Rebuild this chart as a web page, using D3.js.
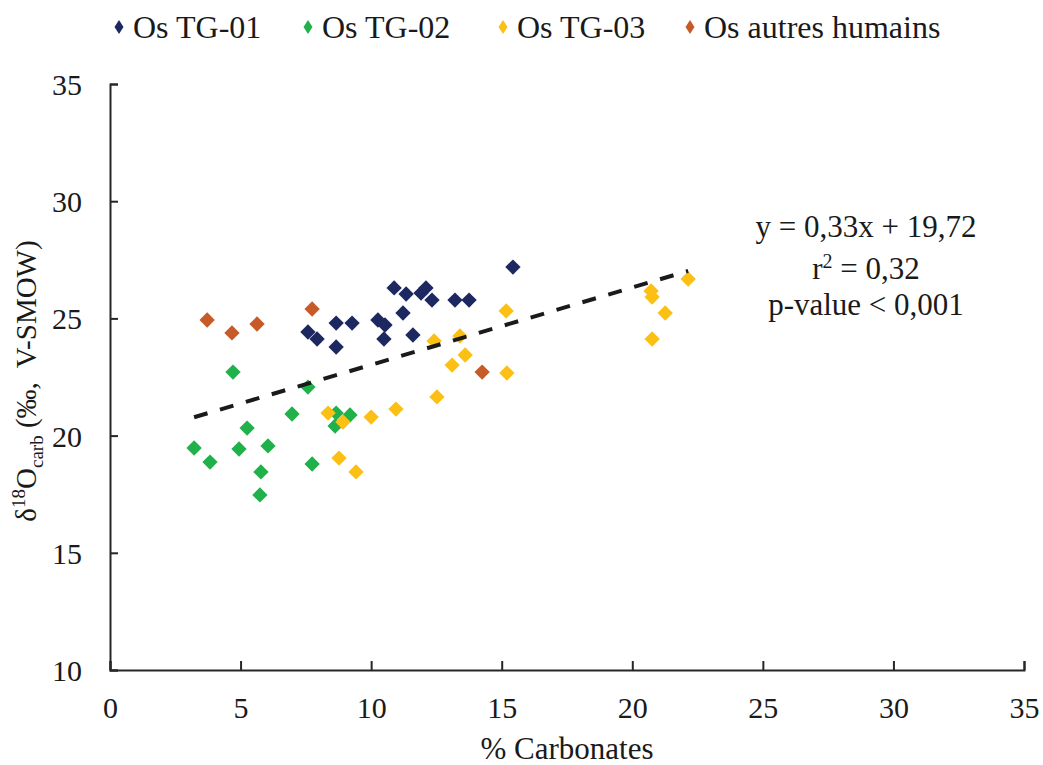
<!DOCTYPE html>
<html>
<head>
<meta charset="utf-8">
<script src="https://cdn.jsdelivr.net/npm/d3@7"></script>
<style>
  body { margin: 0; background: #fff; }
  svg { display: block; font-family: "Liberation Serif", "Times New Roman", serif; }
</style>
</head>
<body>
<svg id="chart" width="1043" height="765"></svg>
<script>
// ---- data ----
const seriesNames = ["Os TG-01", "Os TG-02", "Os TG-03", "Os autres humains"];
const seriesColors = ["#1d2861", "#21b14b", "#fcc015", "#c75b27"];

const tg01X = [10.88, 11.34, 11.91, 12.10, 12.33, 13.21, 13.75, 15.43, 11.22, 11.60, 10.49, 10.26, 10.53, 9.27, 8.66, 7.58, 7.93, 8.66];
const tg01Y = [26.30, 26.04, 26.08, 26.30, 25.78, 25.78, 25.78, 27.19, 25.23, 24.29, 24.12, 24.93, 24.72, 24.80, 24.80, 24.42, 24.12, 23.78];

const tg02X = [4.71, 7.58, 6.97, 5.25, 3.22, 3.83, 4.94, 6.05, 5.78, 5.74, 7.74, 8.66, 9.19, 8.62];
const tg02Y = [22.71, 22.07, 20.92, 20.32, 19.47, 18.87, 19.43, 19.56, 18.45, 17.47, 18.79, 20.96, 20.88, 20.41];

const tg03X = [15.17, 12.41, 13.40, 13.60, 13.10, 15.20, 12.52, 10.95, 10.00, 8.35, 8.92, 8.77, 9.42, 20.72, 20.76, 21.26, 20.76, 22.14];
const tg03Y = [25.32, 24.04, 24.25, 23.44, 23.01, 22.67, 21.65, 21.13, 20.79, 20.96, 20.58, 19.04, 18.45, 26.17, 25.91, 25.23, 24.12, 26.68];

const autresX = [3.72, 4.67, 5.63, 7.74, 14.25];
const autresY = [24.93, 24.38, 24.76, 25.40, 22.71];

const xTicks = [0, 5, 10, 15, 20, 25, 30, 35];
const yTicks = [10, 15, 20, 25, 30, 35];

const trendSlope = 0.33, trendIntercept = 19.72;
const trendLabels = ["y = 0,33x + 19,72", "r² = 0,32", "p-value < 0,001"];

// ---- chart ----
const svg = d3.select("#chart");
const x = d3.scaleLinear().domain([0, 35]).range([110, 1024]);
const y = d3.scaleLinear().domain([10, 35]).range([670, 84]);
const axisColor = "#262626";
const fontSize = 30;

const seriesX = [tg01X, tg02X, tg03X, autresX];
const seriesY = [tg01Y, tg02Y, tg03Y, autresY];

// axes
const xAxis = svg.append("g").attr("transform", "translate(0,670)")
  .call(d3.axisBottom(x).tickValues(xTicks).tickSize(-9).tickPadding(27).tickFormat(d3.format("d")));
const yAxis = svg.append("g").attr("transform", "translate(110,0)")
  .call(d3.axisLeft(y).tickValues(yTicks).tickSize(-8).tickPadding(28).tickFormat(d3.format("d")));
[xAxis, yAxis].forEach(g => {
  g.select(".domain").attr("stroke", axisColor).attr("stroke-width", 2);
  g.selectAll(".tick line").attr("stroke", axisColor).attr("stroke-width", 2);
  g.selectAll(".tick text").attr("fill", "#1a1a1a").style("font-size", fontSize + "px")
    .style("font-family", "'Liberation Serif', serif");
});
xAxis.selectAll(".tick text").attr("dy", "0.71em");
yAxis.selectAll(".tick text").attr("dy", "0.35em");

// points
const diamond = d3.symbol().type(d3.symbolDiamond2).size(150);
seriesX.forEach((xs, i) => {
  const pts = xs.map((v, j) => [v, seriesY[i][j]]);
  svg.append("g").selectAll("path").data(pts).join("path")
    .attr("d", diamond)
    .attr("transform", d => `translate(${x(d[0])},${y(d[1])})`)
    .attr("fill", seriesColors[i]);
});

// trend line (over data range), on top of points
const allX = [].concat(...seriesX);
const xMin = d3.min(allX), xMax = d3.max(allX);
svg.append("line")
  .attr("x1", x(xMin)).attr("y1", y(trendSlope * xMin + trendIntercept))
  .attr("x2", x(xMax)).attr("y2", y(trendSlope * xMax + trendIntercept))
  .attr("stroke", "#1a1a1a").attr("stroke-width", 4)
  .attr("stroke-dasharray", "14,13");

// equation text
const eqX = 866, eqY = [226, 268, 304], eqSize = 31;
trendLabels.forEach((t, i) => {
  const txt = svg.append("text").attr("x", eqX).attr("y", eqY[i]).attr("dy", "0.35em")
    .attr("text-anchor", "middle").attr("fill", "#1a1a1a").style("font-size", eqSize + "px");
  if (i === 1) {
    txt.append("tspan").text("r");
    txt.append("tspan").text("2").attr("dy", -11).style("font-size", "20px");
    txt.append("tspan").text(" = 0,32").attr("dy", 11);
  } else {
    txt.text(t);
  }
});

// legend
const legendX = [119, 308, 503, 690];
const legend = svg.append("g");
seriesNames.forEach((n, i) => {
  legend.append("path")
    .attr("d", "M0,-7L4.5,0L0,7L-4.5,0Z")
    .attr("transform", `translate(${legendX[i]},27)`)
    .attr("fill", seriesColors[i]);
  legend.append("text").attr("x", legendX[i] + 14).attr("y", 27).attr("dy", "0.35em")
    .attr("fill", "#1a1a1a").style("font-size", "32px").text(n);
});

// axis titles
svg.append("text").attr("x", 567).attr("y", 748).attr("dy", "0.35em")
  .attr("text-anchor", "middle").attr("fill", "#1a1a1a").style("font-size", "31px").text("% Carbonates");

const yt = svg.append("text").attr("transform", "translate(36,381) rotate(-90)")
  .attr("text-anchor", "middle").attr("fill", "#1a1a1a").style("font-size", "29px")
  .attr("xml:space", "preserve");
yt.append("tspan").text("δ");
yt.append("tspan").text("18").attr("dy", -11).style("font-size", "19px");
yt.append("tspan").text("O").attr("dy", 11);
yt.append("tspan").text("carb").attr("dy", 7).style("font-size", "19px");
yt.append("tspan").text(" (‰,  V-SMOW)").attr("dy", -7);
</script>
</body>
</html>
